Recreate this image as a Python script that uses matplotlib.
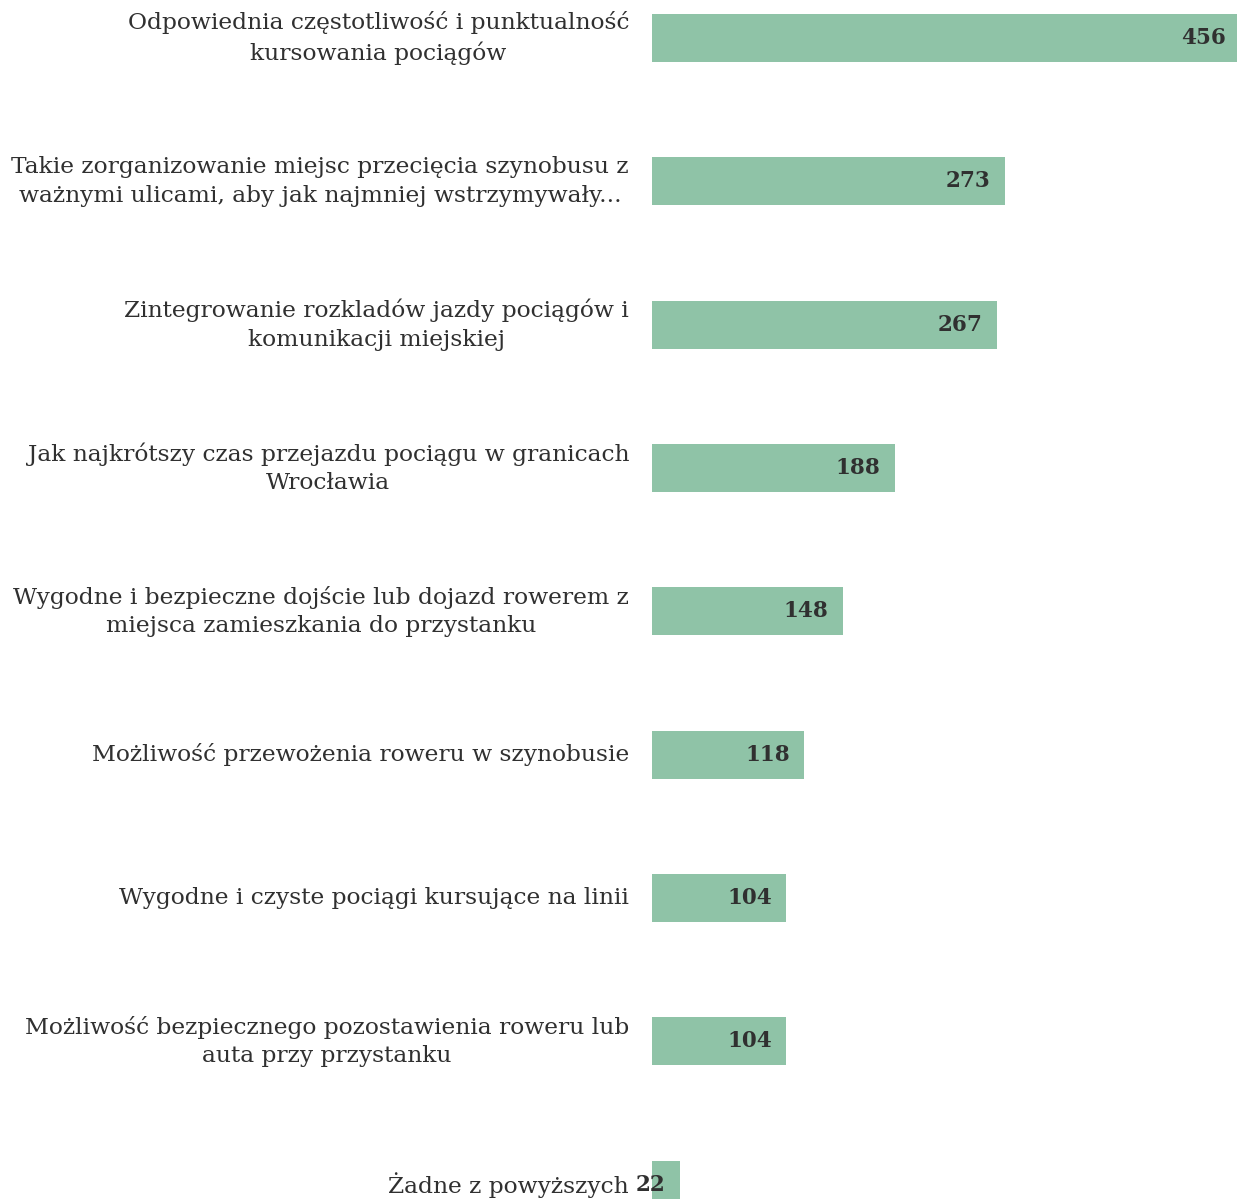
import numpy as np
import matplotlib.pyplot as plt

labels = [
    "Odpowiednia częstotliwość i punktualność\nkursowania pociągów",
    "Takie zorganizowanie miejsc przecięcia szynobusu z\nważnymi ulicami, aby jak najmniej wstrzymywały...",
    "Zintegrowanie rozkladów jazdy pociągów i\nkomunikacji miejskiej",
    "Jak najkrótszy czas przejazdu pociągu w granicach\nWrocławia",
    "Wygodne i bezpieczne dojście lub dojazd rowerem z\nmiejsca zamieszkania do przystanku",
    "Możliwość przewożenia roweru w szynobusie",
    "Wygodne i czyste pociągi kursujące na linii",
    "Możliwość bezpiecznego pozostawienia roweru lub\nauta przy przystanku",
    "Żadne z powyższych",
]
values = [456, 273, 267, 188, 148, 118, 104, 104, 22]

bar_color = "#8fc3a7"
text_color = "#303030"
font = "DejaVu Serif"

fig = plt.figure(figsize=(12.37, 11.99), dpi=100)
ax = fig.add_axes([652 / 1237, 0, 1 - 652 / 1237, 1])

y = np.arange(len(values))
ax.barh(y, values, height=0.335, color=bar_color, edgecolor="none")
ax.set_xlim(0, 453)
ax.set_ylim(8.1, -0.265)
ax.axis("off")

# value labels at the inner end of each bar
for yi, v in zip(y, values):
    ax.annotate(str(v), (v, yi), xytext=(-10.5, 0), textcoords="offset points",
                ha="right", va="center", fontsize=15.5, fontweight="bold",
                color=text_color, family=font, annotation_clip=False)

# category labels, right aligned just left of the bars
for yi, lab in zip(y, labels):
    ax.annotate(lab, (0, yi), xytext=(-16.5, 0), textcoords="offset points",
                ha="right", va="center", ma="center", fontsize=16.8,
                color=text_color, family=font, linespacing=1.38,
                annotation_clip=False)

fig.savefig("out.png", dpi=100)
